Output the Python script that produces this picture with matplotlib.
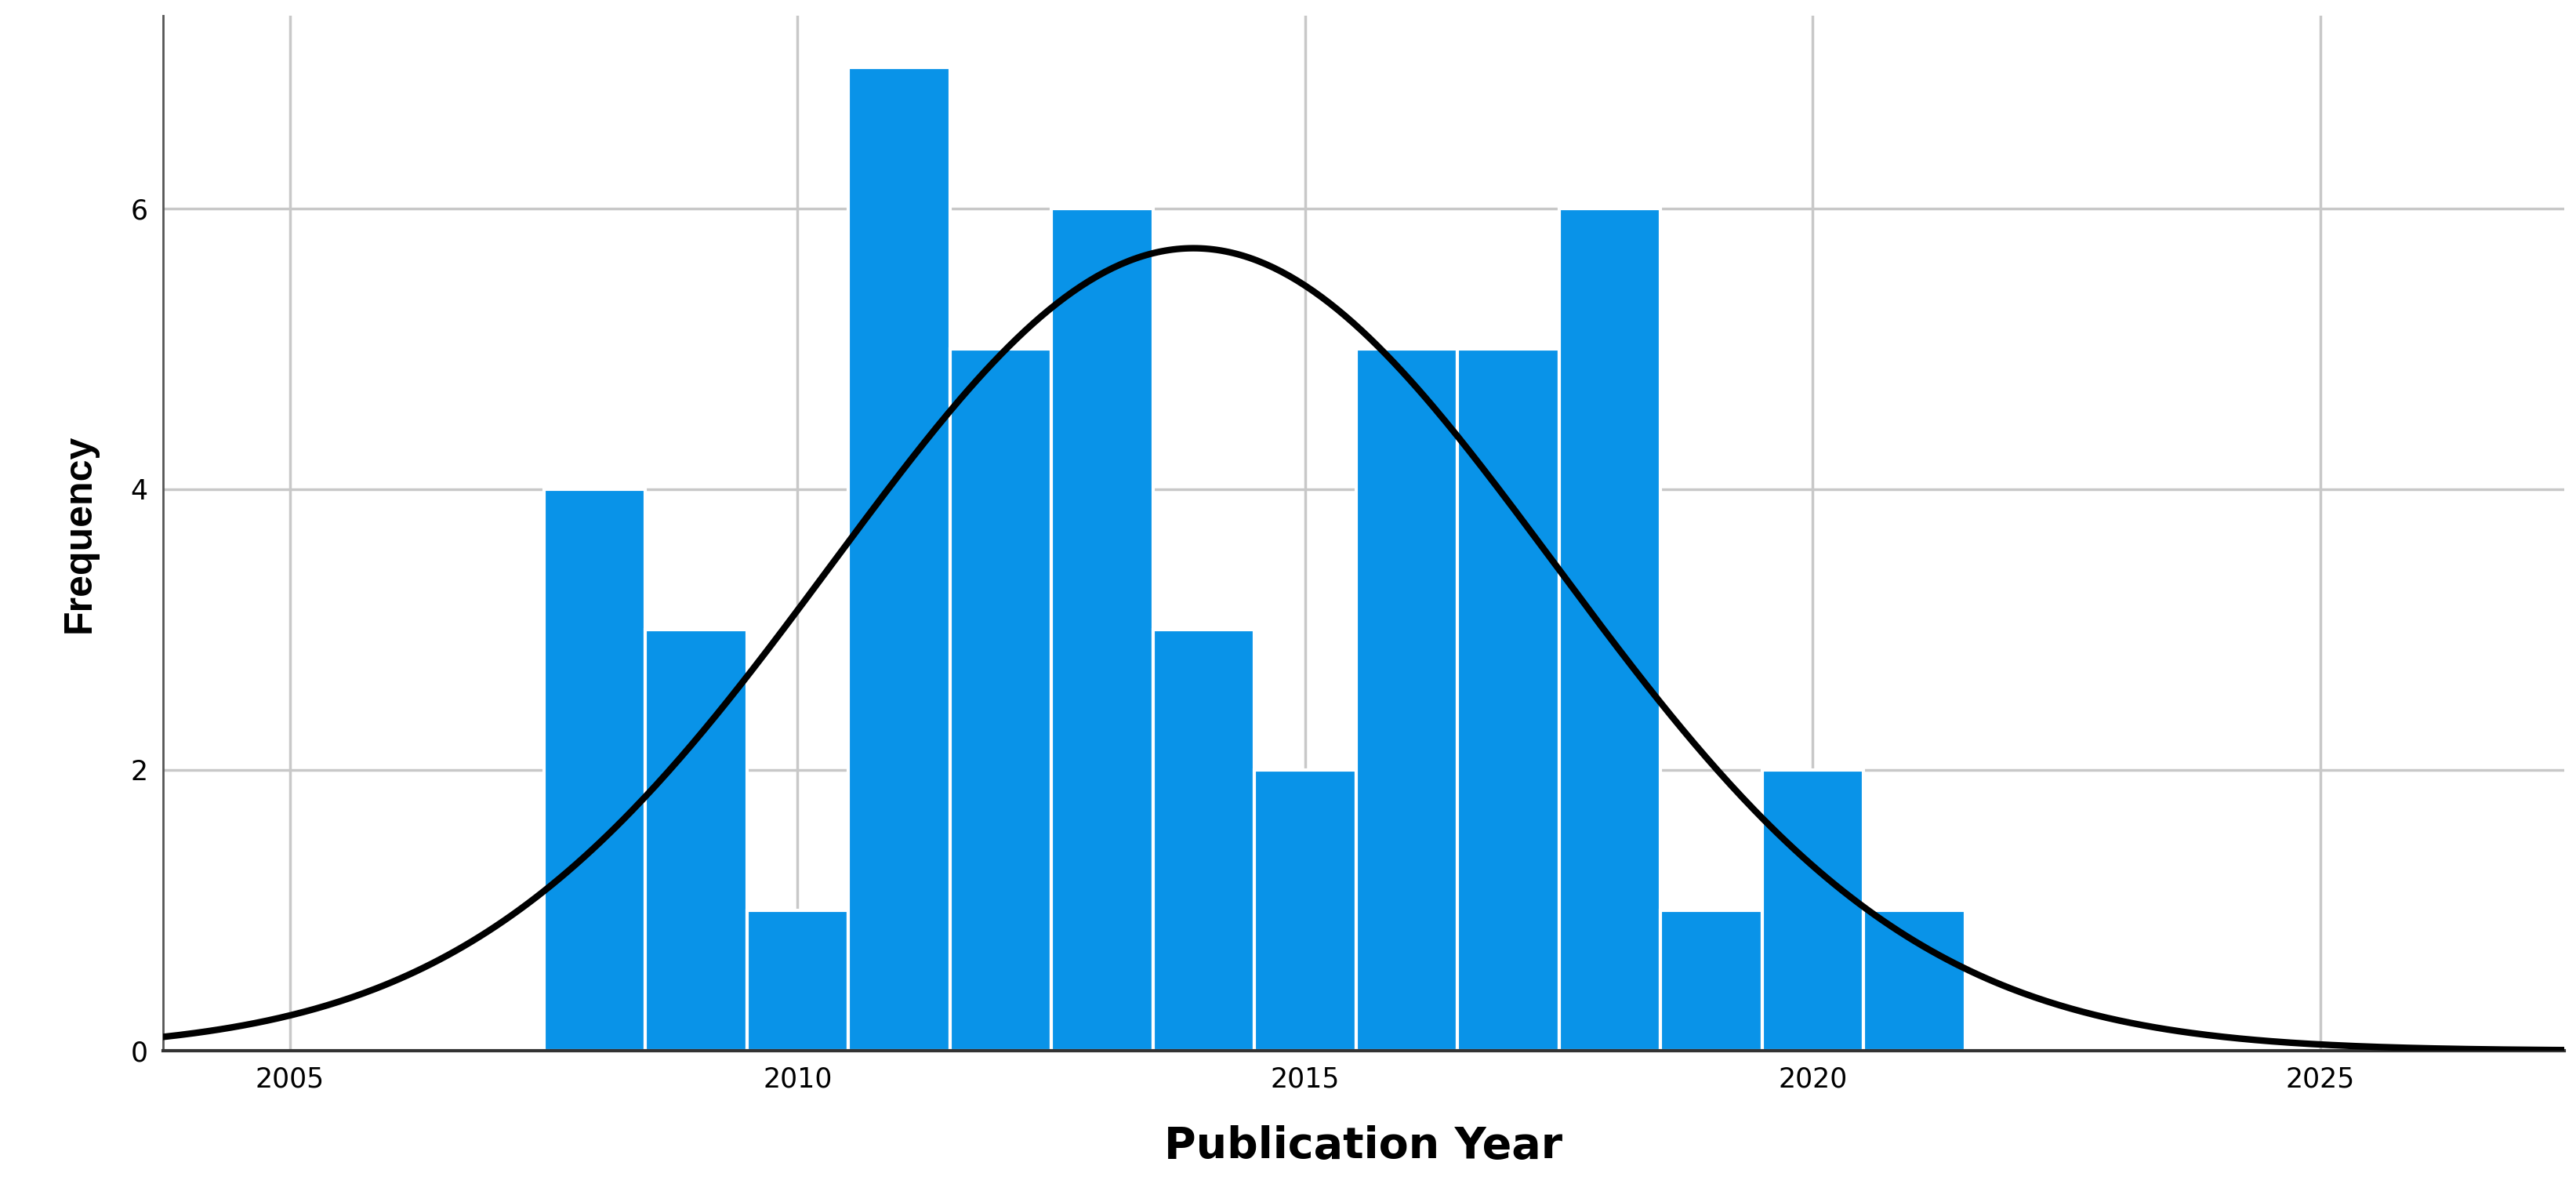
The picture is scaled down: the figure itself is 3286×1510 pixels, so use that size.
import numpy as np
import matplotlib.pyplot as plt

years = [2008, 2009, 2010, 2011, 2012, 2013, 2014, 2015, 2016, 2017, 2018, 2019, 2020, 2021]
counts = [4, 3, 1, 7, 5, 6, 3, 2, 5, 5, 6, 1, 2, 1]
curve_mean = 2013.9
curve_sd = 3.56
x_ticks = [2005, 2010, 2015, 2020, 2025]
y_ticks = [0, 2, 4, 6]

fig = plt.figure(figsize=(32.86, 15.1), dpi=100)
ax = fig.add_axes([0.0633, 0.1126, 0.932, 0.874])

ax.bar(years, counts, width=1.0, color='#0993e8', edgecolor='white', linewidth=3, zorder=2)

n = sum(counts)
xs = np.linspace(2003.75, 2027.4, 600)
ys = n / (curve_sd * np.sqrt(2 * np.pi)) * np.exp(-0.5 * ((xs - curve_mean) / curve_sd) ** 2)
ax.plot(xs, ys, color='black', linewidth=6, zorder=3)

ax.set_xlim(2003.75, 2027.4)
ax.set_ylim(0, 7.37)
ax.set_xticks(x_ticks)
ax.set_yticks(y_ticks)
ax.grid(True, color='#c8c8c8', linewidth=2.5, zorder=0)
ax.set_axisbelow(True)
ax.tick_params(length=0, labelsize=25, pad=14)
for s in ['top', 'right']:
    ax.spines[s].set_visible(False)
ax.spines['left'].set_color('#555555')
ax.spines['left'].set_linewidth(2)
ax.spines['bottom'].set_color('#333333')
ax.spines['bottom'].set_linewidth(3)

ax.set_xlabel('Publication Year', fontsize=40, fontweight='bold', labelpad=30)
ax.set_ylabel('Frequency', fontsize=36, fontweight='bold', family='Liberation Sans', labelpad=30)

fig.savefig('out.png', dpi=100)
